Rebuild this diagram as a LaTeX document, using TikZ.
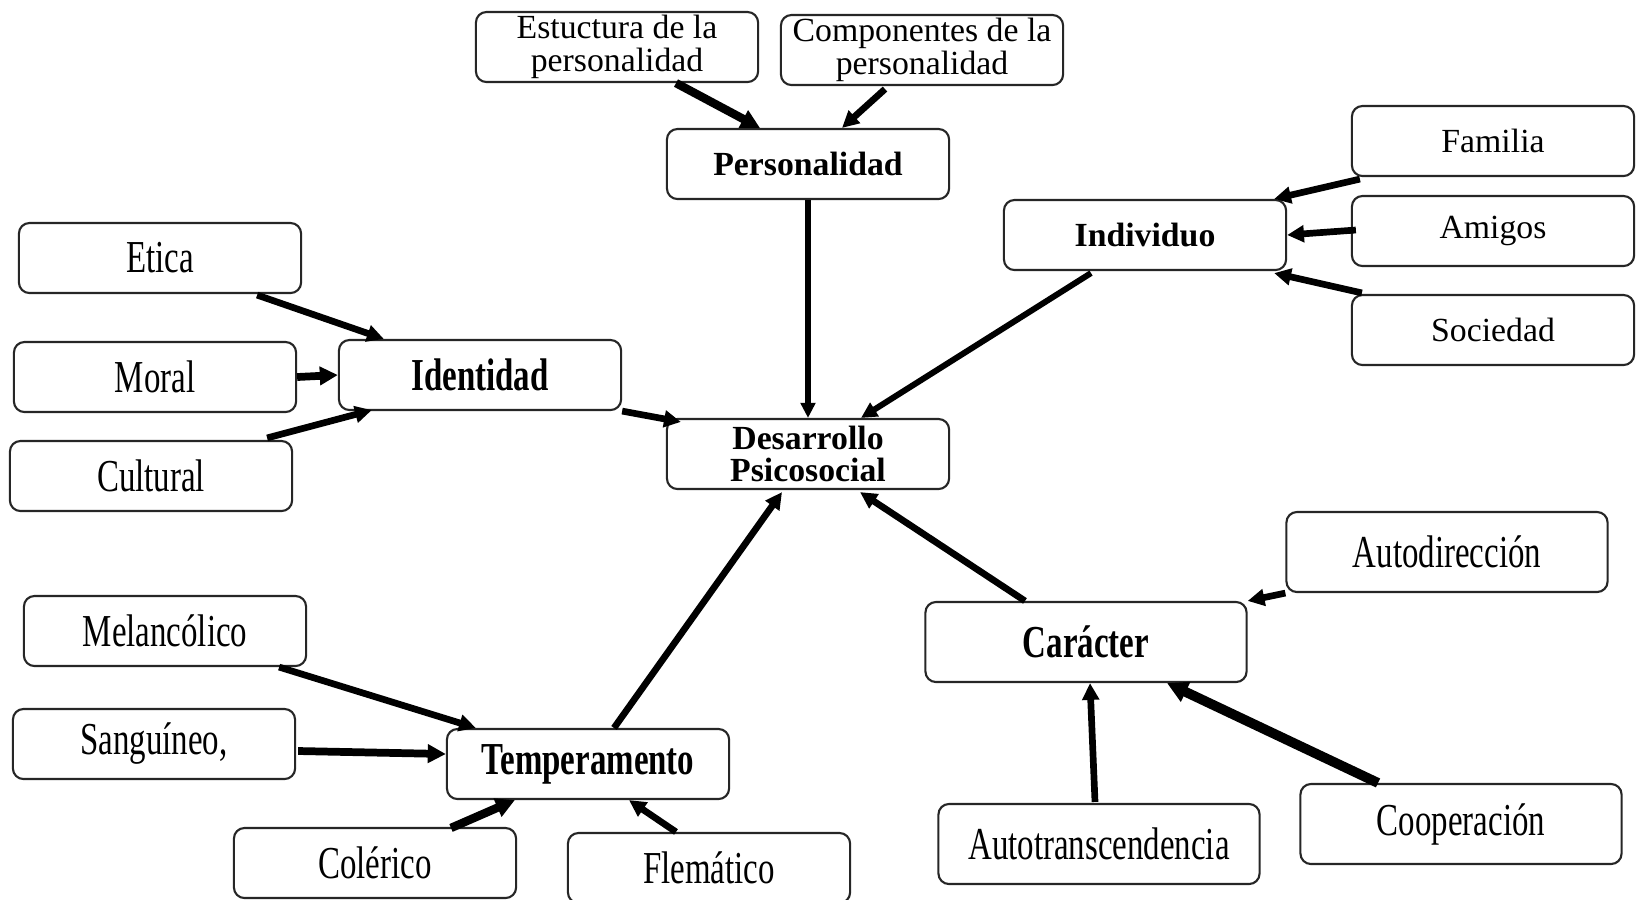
\documentclass[tikz,border=0pt]{standalone}
\usepackage{fontspec}
\setmainfont{Liberation Serif}
\newfontfamily\cond[FakeStretch=0.72]{Liberation Serif}
\usetikzlibrary{arrows.meta,calc}

\tikzset{
	caja/.style = {draw=black!85, line width=0.6pt, rounded corners=3pt, fill=white,
		minimum width=2.82cm, minimum height=0.70cm, align=center, inner sep=1pt,
		font=\fontsize{9.6}{9.2}\selectfont},
	cajab/.style = {caja, font=\fontsize{9.6}{9.2}\selectfont\bfseries},
	cajac/.style = {caja, font=\cond\fontsize{13}{14}\selectfont},
	cajacb/.style = {cajac, font=\cond\fontsize{13}{14}\selectfont\bfseries},
	grande/.style = {minimum width=3.21cm, minimum height=0.80cm},
	flecha/.style = {-{Triangle[length=2.5pt 1.2,width=2pt 1.4]}, line width=1.9pt},
}

\begin{document}
\begin{tikzpicture}[x=0.01cm, y=-0.01cm]
	\useasboundingbox (0,0) rectangle (1640,899);

	\node[cajab] (des) at (808,454) {Desarrollo\\Psicosocial};

	\node[cajab] (per) at (808,164) {Personalidad};
	\node[caja] (est) at (617,47) {Estuctura de la\\personalidad};
	\node[caja] (com) at (922,50) {Componentes de la\\personalidad};

	\node[cajab] (ind) at (1145,235) {Individuo};
	\node[caja] (fam) at (1493,141) {Familia};
	\node[caja] (ami) at (1493,231) {Amigos};
	\node[caja] (soc) at (1493,330) {Sociedad};

	\node[cajacb] (idt) at (480,375) {Identidad};
	\node[cajac] (eti) at (160,258) {Etica};
	\node[cajac] (mor) at (155,377) {Moral};
	\node[cajac] (cul) at (151,476) {Cultural};

	\node[cajacb] (tem) at (588,764) {Temperamento};
	\node[cajac] (mel) at (165,631) {Melancólico};
	\node[cajac] (san) at (154,744) {Sanguíneo,};
	\node[cajac] (col) at (375,863) {Colérico};
	\node[cajac] (fle) at (709,868) {Flemático};

	\node[cajacb, grande] (car) at (1086,642) {Carácter};
	\node[cajac, grande] (aud) at (1447,552) {Autodirección};
	\node[cajac, grande] (aut) at (1099,844) {Autotranscendencia};
	\node[cajac, grande] (coo) at (1461,824) {Cooperación};

	% personalidad
	\draw[flecha, line width=2.4pt] ($(est.south)+(59,0)$) -- ($(per.north)+(-48,0)$);
	\draw[flecha] ($(com.south)+(-37,3)$) -- ($(per.north)+(34,0)$);
	\draw[flecha, line width=1.5pt] (per.south) -- (des.north);

	% individuo
	\draw[flecha] ($(fam.south west)+(9,2)$) -- ($(ind.north east)+(-13,0)$);
	\draw[flecha] ($(ami.west)+(5,-1)$) -- (ind.east);
	\draw[flecha] ($(soc.north west)+(11,-1)$) -- ($(ind.south east)+(-13,2)$);
	\draw[flecha, line width=1.7pt] ($(ind.south)+(-54,2)$) -- ($(des.north)+(53,0)$);

	% identidad
	\draw[flecha] ($(eti.south east)+(-45,1)$) -- ($(idt.north west)+(46,0)$);
	\draw[flecha, line width=2.2pt] (mor.east) -- (idt.west);
	\draw[flecha] ($(cul.north east)+(-26,-2)$) -- ($(idt.south west)+(34,-1)$);
	\draw[flecha] (idt.south east) -- ($(des.north west)+(15,4)$);

	% temperamento
	\draw[flecha] ($(mel.south east)+(-28,0)$) -- ($(tem.north west)+(30,0)$);
	\draw[flecha, line width=2.2pt] ($(san.east)+(2,7)$) -- ($(tem.west)+(0,-10)$);
	\draw[flecha, line width=2.4pt] ($(col.north)+(76,1)$) -- ($(tem.south west)+(69,0)$);
	\draw[flecha] ($(fle.north)+(-33,0)$) -- ($(tem.south)+(41,0)$);
	\draw[flecha] ($(tem.north)+(26,0)$) -- ($(des.south)+(-26,2)$);

	% caracter
	\draw[flecha] (aud.south west) -- (car.north east);
	\draw[flecha] ($(aut.north)+(-4,-1)$) -- ($(car.south)+(4,0)$);
	\draw[flecha, line width=2.8pt] ($(coo.north)+(-83,0)$) -- ($(car.south)+(81,0)$);
	\draw[flecha] ($(car.north)+(-61,0)$) -- ($(des.south)+(52,2)$);
\end{tikzpicture}
\end{document}
